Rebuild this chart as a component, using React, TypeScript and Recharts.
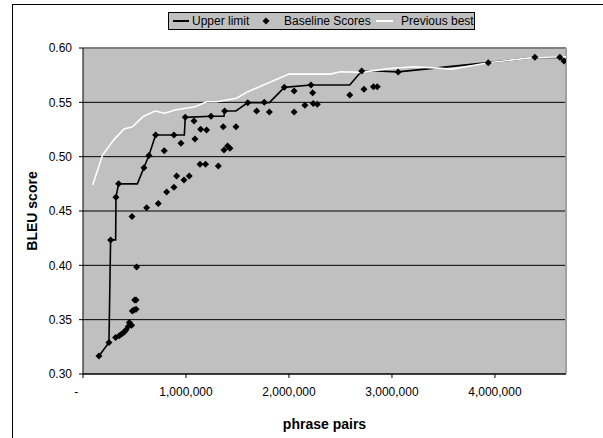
import {
    ComposedChart,
    Line,
    Scatter,
    XAxis,
    YAxis,
    CartesianGrid,
    ReferenceLine,
    Label,
} from 'recharts';

// x values in millions of phrase pairs, y = BLEU
const upperX = [0.155, 0.252, 0.268, 0.317, 0.32, 0.346, 0.528, 0.592, 0.64, 0.705, 0.984, 0.993, 1.243, 1.369, 1.375, 1.485, 1.6, 1.81, 1.955, 2.214, 2.59, 2.706, 2.85, 3.06, 3.935, 4.388, 4.63, 4.67];
const upperY = [0.3166, 0.329, 0.4234, 0.4234, 0.4627, 0.475, 0.475, 0.49, 0.501, 0.52, 0.52, 0.5362, 0.5372, 0.5372, 0.542, 0.542, 0.5497, 0.5497, 0.5638, 0.566, 0.566, 0.5788, 0.5788, 0.578, 0.5865, 0.5914, 0.5914, 0.588];

const baseX = [0.155, 0.252, 0.317, 0.352, 0.375, 0.398, 0.417, 0.44, 0.45, 0.472, 0.479, 0.495, 0.515, 0.502, 0.515, 0.521, 0.476, 0.618, 0.731, 0.268, 0.32, 0.346, 0.592, 0.64, 0.705, 0.789, 0.812, 0.883, 0.883, 0.909, 0.951, 0.981, 0.993, 1.032, 1.078, 1.087, 1.136, 1.142, 1.19, 1.2, 1.243, 1.314, 1.362, 1.369, 1.375, 1.404, 1.427, 1.485, 1.6, 1.686, 1.76, 1.81, 1.955, 2.05, 2.05, 2.155, 2.214, 2.23, 2.236, 2.275, 2.59, 2.706, 2.728, 2.82, 2.857, 3.06, 3.935, 4.388, 4.63, 4.67];
const baseY = [0.3166, 0.329, 0.3335, 0.3353, 0.3369, 0.3385, 0.3406, 0.3436, 0.3473, 0.3449, 0.358, 0.359, 0.3596, 0.3682, 0.3682, 0.3985, 0.445, 0.453, 0.457, 0.4234, 0.4627, 0.475, 0.4899, 0.501, 0.52, 0.5055, 0.4675, 0.4718, 0.52, 0.4822, 0.5123, 0.4786, 0.5362, 0.4822, 0.5328, 0.5163, 0.493, 0.5252, 0.493, 0.5246, 0.5372, 0.4915, 0.5276, 0.5062, 0.542, 0.5099, 0.5077, 0.5276, 0.5497, 0.542, 0.55, 0.541, 0.5638, 0.5604, 0.541, 0.5473, 0.566, 0.5589, 0.549, 0.5482, 0.5567, 0.5788, 0.562, 0.5644, 0.5644, 0.578, 0.5865, 0.5914, 0.5914, 0.588];

const prevX = [0.094, 0.19, 0.295, 0.398, 0.48, 0.585, 0.699, 0.796, 0.893, 1.087, 1.2, 1.297, 1.49, 1.6, 2.0, 2.4, 2.5, 2.69, 2.82, 3.01, 3.21, 3.45, 3.58, 3.935, 4.388, 4.69];
const prevY = [0.474, 0.5015, 0.515, 0.5255, 0.5275, 0.537, 0.542, 0.54, 0.543, 0.546, 0.5506, 0.5506, 0.5537, 0.5598, 0.576, 0.576, 0.5782, 0.5776, 0.5792, 0.5813, 0.5828, 0.5815, 0.5805, 0.5865, 0.5914, 0.592];

const xTicks = [0, 1000000, 2000000, 3000000, 4000000];
const yTicks = [0.3, 0.35, 0.4, 0.45, 0.5, 0.55, 0.6];
const xMax = 4690000;

const toRows = (xs: number[], ys: number[]) =>
    xs.map((x, i) => ({ x: x * 1000000, y: ys[i] }));

const upperData = toRows(upperX, upperY);
const baseData = toRows(baseX, baseY);
const prevData = toRows(prevX, prevY);

const font = '"Liberation Sans", Arial, sans-serif';

const Diamond = (props: any) => {
    const { cx, cy } = props;
    const r = 3.5;
    return (
        <polygon
            points={`${cx},${cy - r} ${cx + r},${cy} ${cx},${cy + r} ${cx - r},${cy}`}
            fill='#000'
        />
    );
};

// excel accounting style: zero shows as a dash with padding after it
const fmtX = (v: number) =>
    v === 0 ? '-\u00a0\u00a0\u00a0\u00a0' : v.toLocaleString('en-US');

export default function App() {
    return (
        <div
            style={{
                position: 'absolute',
                left: 0,
                top: 0,
                width: 603,
                height: 438,
                background: '#fff',
                fontFamily: font,
                overflow: 'hidden',
            }}
        >
            <div
                style={{
                    position: 'absolute',
                    left: 12,
                    top: 4,
                    width: 700,
                    height: 600,
                    borderLeft: '1px solid #000',
                    borderTop: '1px solid #000',
                }}
            />
            <ComposedChart
                width={603}
                height={438}
                margin={{ top: 48, right: 37, bottom: 0, left: 13 }}
                style={{ position: 'absolute', left: 0, top: 0 }}
            >
                <CartesianGrid
                    vertical={false}
                    stroke='#000'
                    fill='#C0C0C0'
                    fillOpacity={1}
                />
                <XAxis
                    type='number'
                    dataKey='x'
                    domain={[0, xMax]}
                    ticks={xTicks}
                    tickFormatter={fmtX}
                    height={64}
                    stroke='#000'
                    tickSize={4}
                    tickMargin={9}
                    tick={{ fill: '#000', fontSize: 12, fontFamily: font }}
                    allowDataOverflow
                >
                    <Label
                        value='phrase pairs'
                        position='insideBottom'
                        offset={9}
                        style={{ fontWeight: 'bold', fontSize: 14, fill: '#000', fontFamily: font }}
                    />
                </XAxis>
                <YAxis
                    type='number'
                    dataKey='y'
                    domain={[0.3, 0.6]}
                    ticks={yTicks}
                    tickFormatter={(v: number) => v.toFixed(2)}
                    width={70}
                    stroke='#000'
                    tickSize={4}
                    tickMargin={7}
                    tick={{ fill: '#000', fontSize: 12, fontFamily: font }}
                    allowDataOverflow
                >
                    <Label
                        content={({ viewBox }: any) => (
                            <text
                                x={33}
                                y={viewBox.y + viewBox.height / 2}
                                transform={`rotate(-90 33 ${viewBox.y + viewBox.height / 2})`}
                                textAnchor='middle'
                                dominantBaseline='middle'
                                style={{ fontWeight: 'bold', fontSize: 14, fill: '#000', fontFamily: font }}
                            >
                                BLEU score
                            </text>
                        )}
                    />
                </YAxis>
                <ReferenceLine y={0.6} stroke='#808080' strokeWidth={2} />
                <ReferenceLine x={xMax} stroke='#A0A0A0' strokeWidth={2} />
                <Line
                    data={upperData}
                    dataKey='y'
                    name='Upper limit'
                    type='linear'
                    stroke='#000'
                    strokeWidth={1.6}
                    dot={false}
                    isAnimationActive={false}
                />
                <Line
                    data={prevData}
                    dataKey='y'
                    name='Previous best'
                    type='linear'
                    stroke='#fff'
                    strokeWidth={1.6}
                    dot={false}
                    isAnimationActive={false}
                />
                <Scatter
                    data={baseData}
                    dataKey='y'
                    name='Baseline Scores'
                    shape={Diamond}
                    isAnimationActive={false}
                />
            </ComposedChart>
            <div
                style={{
                    position: 'absolute',
                    left: 168,
                    top: 12,
                    width: 305,
                    height: 16,
                    border: '1px solid #000',
                    background: '#C0C0C0',
                    fontSize: 12,
                    lineHeight: '16px',
                    color: '#000',
                }}
            >
                <div style={{ position: 'absolute', left: 4, top: 7, width: 16, height: 2, background: '#000' }} />
                <span style={{ position: 'absolute', left: 23, top: 0 }}>Upper limit</span>
                <svg style={{ position: 'absolute', left: 93, top: 4 }} width={8} height={8}>
                    <polygon points='4,0.5 7.5,4 4,7.5 0.5,4' fill='#000' />
                </svg>
                <span style={{ position: 'absolute', left: 115, top: 0 }}>Baseline Scores</span>
                <div style={{ position: 'absolute', left: 207, top: 7, width: 17, height: 2, background: '#fff' }} />
                <span style={{ position: 'absolute', left: 232, top: 0 }}>Previous best</span>
            </div>
        </div>
    );
}
